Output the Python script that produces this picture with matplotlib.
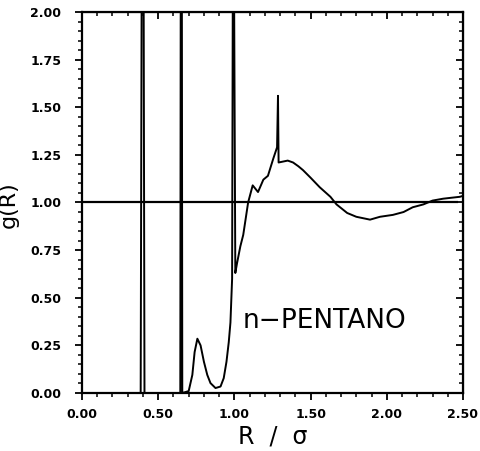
import matplotlib
matplotlib.use("Agg")
import matplotlib.pyplot as plt
from matplotlib.ticker import MultipleLocator, NullFormatter, FormatStrFormatter

# ---- data ----
r_values = [0.385, 0.392, 0.404, 0.41,
            0.645, 0.648, 0.655, 0.658,
            0.70, 0.724, 0.739, 0.757, 0.778, 0.80, 0.822, 0.843, 0.876, 0.909,
            0.93, 0.948, 0.963, 0.974, 0.985, 0.99, 0.997, 1.006, 1.017, 1.039,
            1.058, 1.075, 1.09, 1.12, 1.155, 1.19, 1.22, 1.255, 1.28, 1.286, 1.29,
            1.35, 1.385, 1.42, 1.45, 1.50, 1.56, 1.63, 1.67, 1.74, 1.80, 1.89,
            1.955, 2.04, 2.11, 2.17, 2.24, 2.30, 2.37, 2.48, 2.50]
g_values = [0.0, 2.3, 2.3, 0.0,
            0.0, 2.3, 2.3, 0.0,
            0.01, 0.095, 0.215, 0.285, 0.25, 0.164, 0.095, 0.052, 0.026, 0.034,
            0.078, 0.164, 0.267, 0.37, 0.6, 2.3, 2.3, 0.63, 0.68, 0.77,
            0.83, 0.92, 1.0, 1.09, 1.055, 1.12, 1.14, 1.23, 1.29, 1.56, 1.21,
            1.22, 1.21, 1.19, 1.17, 1.13, 1.08, 1.03, 0.99, 0.945, 0.925, 0.91,
            0.925, 0.935, 0.95, 0.975, 0.99, 1.01, 1.02, 1.03, 1.035]
ref_line_x = [0.0, 2.47]
ref_line_y = [1.0, 1.0]
x_ticks = [0.0, 0.5, 1.0, 1.5, 2.0, 2.5]
y_ticks = [0.0, 0.25, 0.5, 0.75, 1.0, 1.25, 1.5, 1.75, 2.0]
label_text = "n\u2212PENTANO"

fig = plt.figure(figsize=(4.8, 4.51), dpi=100)
ax = fig.add_axes([82/480, 1-393/451, (463-82)/480, (393-12)/451])

ax.plot(ref_line_x, ref_line_y, color="black", lw=1.6, solid_capstyle="butt")
ax.plot(r_values, g_values, color="black", lw=1.4)

ax.set_xlim(0, 2.5)
ax.set_ylim(0, 2.0)

tick_font = dict(family="DejaVu Sans", weight="bold", size=9)
ax.set_xticks(x_ticks)
ax.set_yticks(y_ticks)
ax.xaxis.set_minor_locator(MultipleLocator(0.1))
ax.yaxis.set_minor_locator(MultipleLocator(0.05))
ax.xaxis.set_major_formatter(FormatStrFormatter("%.2f"))
ax.yaxis.set_major_formatter(FormatStrFormatter("%.2f"))
for lab in ax.get_xticklabels() + ax.get_yticklabels():
    lab.set_fontproperties(matplotlib.font_manager.FontProperties(**tick_font))

ax.tick_params(which="major", direction="out", length=5, width=1.3)
ax.tick_params(which="minor", direction="out", length=3, width=1.1)
ax.tick_params(axis="y", which="major", pad=10)
ax.tick_params(axis="x", which="major", pad=6)
for s in ax.spines.values():
    s.set_linewidth(1.6)

# inward ticks on top and right
secx = ax.secondary_xaxis("top")
secx.set_xticks(x_ticks)
secx.xaxis.set_minor_locator(MultipleLocator(0.1))
secx.xaxis.set_major_formatter(NullFormatter())
secx.tick_params(which="major", direction="in", length=5, width=1.3)
secx.tick_params(which="minor", direction="in", length=3, width=1.1)
secy = ax.secondary_yaxis("right")
secy.set_yticks(y_ticks)
secy.yaxis.set_minor_locator(MultipleLocator(0.05))
secy.yaxis.set_major_formatter(NullFormatter())
secy.tick_params(which="major", direction="in", length=5, width=1.3)
secy.tick_params(which="minor", direction="in", length=3, width=1.1)

ax.set_ylabel("g(R)", fontsize=16, family="DejaVu Sans")
ax.yaxis.set_label_coords(-0.165, 0.495)
ax.set_xlabel("R  /  \u03c3", fontsize=17, family="DejaVu Sans", labelpad=2)

ax.text(1.056, 0.378, label_text, fontsize=19, family="DejaVu Sans",
        ha="left", va="center")

fig.savefig("out.png", dpi=100)
